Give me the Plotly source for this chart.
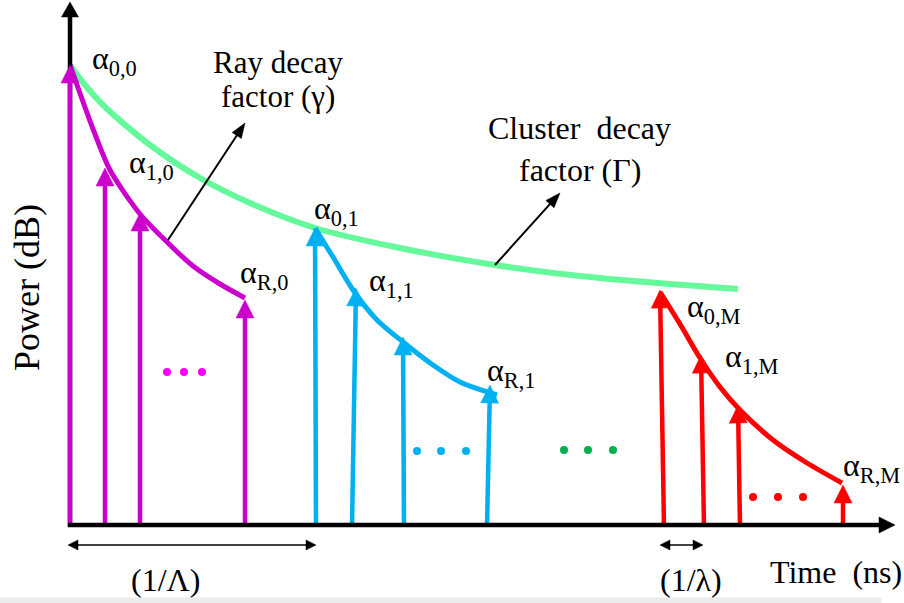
import math
import plotly.graph_objects as go

# ---- Schematic units: t = time from origin, p = power above the time axis ----
axis_t_max = 825
axis_p_max = 523

# Cluster 0 (magenta) rays
mag_base_t = [0, 35, 70, 175]
mag_tip_t = [0, 35, 70, 175]
mag_tip_p = [460, 357, 312, 225]
mag_curve_t = [0, 23, 40, 70, 98, 123, 150, 175]
mag_curve_p = [460, 396, 355, 311, 282, 259, 241, 227]
mag_dots_t = [97, 114, 132]
mag_dots_p = [153, 153, 153]

# Cluster 1 (cyan) rays
cyan_base_t = [246, 282, 334, 417]
cyan_tip_t = [245, 286, 333, 420]
cyan_tip_p = [297, 237, 188, 140]
cyan_curve_t = [245, 263, 283, 307, 333, 363, 390, 427]
cyan_curve_p = [297, 268, 235, 205, 183, 160, 143, 130]
cyan_dots_t = [347, 371, 396]
cyan_dots_p = [74, 74, 74]

# Cluster M (red) rays
red_base_t = [594, 634, 670, 773]
red_tip_t = [590, 631, 668, 773]
red_tip_p = [235, 170, 120, 40]
red_curve_t = [590, 610, 630, 650, 670, 703, 737, 772]
red_curve_p = [233, 201, 167, 138, 115, 85, 62, 42]
red_dots_t = [683, 708, 733]
red_dots_p = [28, 28, 28]

# Between-cluster dots (green)
green_dots_t = [494, 518, 543]
green_dots_p = [75, 75, 75]

# Cluster decay envelope
env_t = [0, 15, 35, 80, 130, 180, 245, 330, 425, 530, 668]
env_p = [460, 440, 418, 380, 347, 322, 297, 277, 260, 247, 236]

# Alpha labels (left edge, vertical centre)
alpha_subs = ["0,0", "1,0", "R,0", "0,1", "1,1", "R,1", "0,M", "1,M", "R,M"]
alpha_t = [20, 57, 168, 242, 297, 415, 615, 653, 771]
alpha_p = [465, 361, 251, 315, 243, 153, 217, 167, 58]

# Pointer arrows (from -> to)
ray_ptr = [(98, 285), (175, 402)]
cluster_ptr = [(425, 260), (490, 332)]
# Spacing markers on the time axis
big_gap_t = [-2, 246]
small_gap_t = [590, 633]
gap_p = -20

MAG = "#cc00cc"
MAG_DOT = "#ff00ff"
CYAN = "#00b0f0"
RED = "#ff0000"
ENV = "#66f99c"
GREEN_DOT = "#00b050"
FONT = "Liberation Serif, Times New Roman, serif"

fig = go.Figure()

# envelope and ray decay curves
fig.add_trace(go.Scatter(x=env_t, y=env_p, mode="lines",
                         line=dict(color=ENV, width=6, shape="spline", smoothing=0.8), hoverinfo="skip"))
for ct, cp, col in [(mag_curve_t, mag_curve_p, MAG), (cyan_curve_t, cyan_curve_p, CYAN),
                    (red_curve_t, red_curve_p, RED)]:
    fig.add_trace(go.Scatter(x=ct, y=cp, mode="lines",
                             line=dict(color=col, width=5, shape="spline", smoothing=0.8), hoverinfo="skip"))

# dots
for dt, dp, col in [(mag_dots_t, mag_dots_p, MAG_DOT), (cyan_dots_t, cyan_dots_p, CYAN),
                    (green_dots_t, green_dots_p, GREEN_DOT), (red_dots_t, red_dots_p, RED)]:
    fig.add_trace(go.Scatter(x=dt, y=dp, mode="markers", marker=dict(color=col, size=8), hoverinfo="skip"))


def add_arrows(segments, color, width, head_len, head_w, both=False):
    """segments: list of ((x0,y0),(x1,y1)); head at (x1,y1) (and at (x0,y0) if both)."""
    sx, sy, hx, hy = [], [], [], []
    for (x0, y0), (x1, y1) in segments:
        dx, dy = x1 - x0, y1 - y0
        d = math.hypot(dx, dy)
        ux, uy = dx / d, dy / d
        ends = [((x1, y1), (ux, uy))]
        if both:
            ends.append(((x0, y0), (-ux, -uy)))
        a0 = (x0 + ux * head_len * 0.6, y0 + uy * head_len * 0.6) if both else (x0, y0)
        a1 = (x1 - ux * head_len * 0.6, y1 - uy * head_len * 0.6)
        sx += [a0[0], a1[0], None]
        sy += [a0[1], a1[1], None]
        for (tx, ty), (vx, vy) in ends:
            bx, by = tx - vx * head_len, ty - vy * head_len
            wx, wy = -vy, vx
            hx += [tx, bx + wx * head_w / 2, bx - wx * head_w / 2, tx, None]
            hy += [ty, by + wy * head_w / 2, by - wy * head_w / 2, ty, None]
    fig.add_trace(go.Scatter(x=sx, y=sy, mode="lines", line=dict(color=color, width=width),
                             hoverinfo="skip"))
    fig.add_trace(go.Scatter(x=hx, y=hy, mode="lines", fill="toself", fillcolor=color,
                             line=dict(color=color, width=0.5), hoverinfo="skip"))


# y axis
add_arrows([((0, -2), (0, axis_p_max))], "black", 4.5, 15, 17)
# rays
for bt, tt, tp, col in [(mag_base_t, mag_tip_t, mag_tip_p, MAG),
                        (cyan_base_t, cyan_tip_t, cyan_tip_p, CYAN),
                        (red_base_t, red_tip_t, red_tip_p, RED)]:
    add_arrows([((b, -2), (t, p)) for b, t, p in zip(bt, tt, tp)], col, 4.5, 18, 18)
# x axis
add_arrows([((-2, 0), (axis_t_max, 0))], "black", 4.5, 16, 16)
# pointer arrows
add_arrows([tuple(ray_ptr), tuple(cluster_ptr)], "black", 2, 15, 11)
# spacing arrows
add_arrows([((big_gap_t[0], gap_p), (big_gap_t[1], gap_p)),
            ((small_gap_t[0], gap_p), (small_gap_t[1], gap_p))], "black", 1.5, 10, 10, both=True)

ann = []


def text(t, p, s, size, xanchor="center", angle=0):
    ann.append(dict(x=t, y=p, xref="x", yref="y", text=s, showarrow=False, xanchor=xanchor,
                    yanchor="middle", textangle=angle,
                    font=dict(family=FONT, size=size, color="black")))


for sub, t, p in zip(alpha_subs, alpha_t, alpha_p):
    text(t, p, "α<sub>" + sub + "</sub>", 32, xanchor="left")

text(208, 463, "Ray decay", 31)
text(208, 429, "factor (γ)", 31)
text(509, 397, "Cluster\u00a0\u00a0decay", 32)
text(510, 355, "factor (Γ)", 32)
text(-43, 237, "Power (dB)", 36, angle=-90)
text(766, -47, "Time\u00a0\u00a0(ns)", 32)
text(95, -55, "(1/Λ)", 32)
text(621, -55, "(1/λ)", 32)

fig.update_layout(
    width=904, height=603, autosize=False,
    margin=dict(l=0, r=0, t=0, b=0),
    paper_bgcolor="white", plot_bgcolor="white",
    showlegend=False,
    xaxis=dict(range=[-70, 834], visible=False, fixedrange=True),
    yaxis=dict(range=[-78, 525], visible=False, fixedrange=True),
    annotations=ann,
    shapes=[dict(type="rect", xref="paper", yref="paper", x0=0.0, x1=0.975, y0=0, y1=0.009,
                 fillcolor="#ececec", line=dict(width=0), layer="below")],
)

fig.write_html("out.html")
